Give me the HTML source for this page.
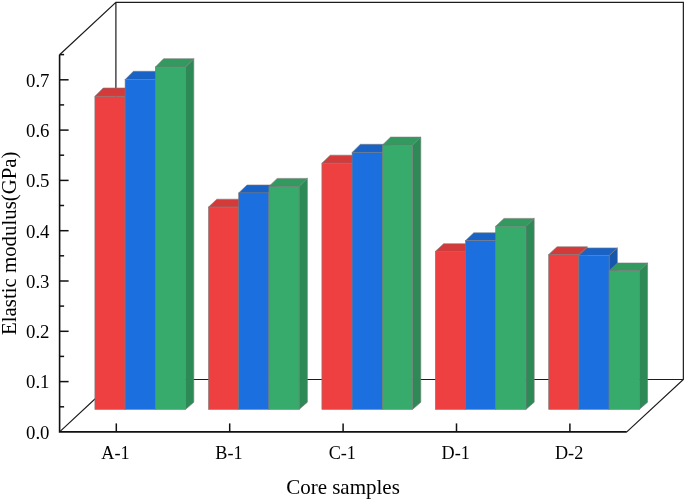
<!DOCTYPE html><html><head><meta charset="utf-8"><title>Elastic modulus</title><style>html,body{margin:0;padding:0;background:#fff}svg{display:block}text{font-family:"Liberation Serif",serif;fill:#000}</style></head><body>
<svg width="685" height="501" viewBox="0 0 685 501">
<rect width="685" height="501" fill="#fff"/>
<path d="M59.6 54.7 L115.9 2.3000000000000043 L683.35 2.3000000000000043 L683.35 379.5 L626.8000000000001 431.9 M115.9 2.3000000000000043 L115.9 379.5 L683.35 379.5 M59.6 431.9 L115.9 379.5" stroke="#1c1c1c" stroke-width="1.2" fill="none"/>
<polygon points="125.1,96.3 133.4,88.0 133.4,402.2 125.1,409.4" fill="#B83232" stroke="#7a7a7a" stroke-width="0.6" stroke-linejoin="round"/>
<polygon points="94.9,96.3 125.1,96.3 133.4,88.0 103.2,88.0" fill="#D53A3A" stroke="#7a7a7a" stroke-width="0.6" stroke-linejoin="round"/>
<rect x="94.9" y="96.3" width="30.2" height="313.1" fill="#EE4040" stroke="#7a7a7a" stroke-width="0.6"/>
<polygon points="155.3,79.6 163.6,71.3 163.6,402.2 155.3,409.4" fill="#1656AC" stroke="#7a7a7a" stroke-width="0.6" stroke-linejoin="round"/>
<polygon points="125.1,79.6 155.3,79.6 163.6,71.3 133.4,71.3" fill="#1963C6" stroke="#7a7a7a" stroke-width="0.6" stroke-linejoin="round"/>
<rect x="125.1" y="79.6" width="30.2" height="329.8" fill="#1B6FDE" stroke="#7a7a7a" stroke-width="0.6"/>
<polygon points="185.5,67.1 193.8,58.7 193.8,402.2 185.5,409.4" fill="#2D8A57" stroke="#7a7a7a" stroke-width="0.6" stroke-linejoin="round"/>
<polygon points="155.3,67.1 185.5,67.1 193.8,58.7 163.6,58.7" fill="#32995F" stroke="#7a7a7a" stroke-width="0.6" stroke-linejoin="round"/>
<rect x="155.3" y="67.1" width="30.2" height="342.3" fill="#37AB6B" stroke="#7a7a7a" stroke-width="0.6"/>
<polygon points="238.7,207.1 247.0,199.2 247.0,402.2 238.7,409.4" fill="#B83232" stroke="#7a7a7a" stroke-width="0.6" stroke-linejoin="round"/>
<polygon points="208.5,207.1 238.7,207.1 247.0,199.2 216.8,199.2" fill="#D53A3A" stroke="#7a7a7a" stroke-width="0.6" stroke-linejoin="round"/>
<rect x="208.5" y="207.1" width="30.2" height="202.3" fill="#EE4040" stroke="#7a7a7a" stroke-width="0.6"/>
<polygon points="268.9,192.9 277.2,185.0 277.2,402.2 268.9,409.4" fill="#1656AC" stroke="#7a7a7a" stroke-width="0.6" stroke-linejoin="round"/>
<polygon points="238.7,192.9 268.9,192.9 277.2,185.0 247.0,185.0" fill="#1963C6" stroke="#7a7a7a" stroke-width="0.6" stroke-linejoin="round"/>
<rect x="238.7" y="192.9" width="30.2" height="216.5" fill="#1B6FDE" stroke="#7a7a7a" stroke-width="0.6"/>
<polygon points="299.1,186.4 307.4,178.4 307.4,402.2 299.1,409.4" fill="#2D8A57" stroke="#7a7a7a" stroke-width="0.6" stroke-linejoin="round"/>
<polygon points="268.9,186.4 299.1,186.4 307.4,178.4 277.2,178.4" fill="#32995F" stroke="#7a7a7a" stroke-width="0.6" stroke-linejoin="round"/>
<rect x="268.9" y="186.4" width="30.2" height="223.0" fill="#37AB6B" stroke="#7a7a7a" stroke-width="0.6"/>
<polygon points="352.1,163.2 360.4,155.2 360.4,402.2 352.1,409.4" fill="#B83232" stroke="#7a7a7a" stroke-width="0.6" stroke-linejoin="round"/>
<polygon points="321.9,163.2 352.1,163.2 360.4,155.2 330.2,155.2" fill="#D53A3A" stroke="#7a7a7a" stroke-width="0.6" stroke-linejoin="round"/>
<rect x="321.9" y="163.2" width="30.2" height="246.2" fill="#EE4040" stroke="#7a7a7a" stroke-width="0.6"/>
<polygon points="382.3,152.4 390.6,144.3 390.6,402.2 382.3,409.4" fill="#1656AC" stroke="#7a7a7a" stroke-width="0.6" stroke-linejoin="round"/>
<polygon points="352.1,152.4 382.3,152.4 390.6,144.3 360.4,144.3" fill="#1963C6" stroke="#7a7a7a" stroke-width="0.6" stroke-linejoin="round"/>
<rect x="352.1" y="152.4" width="30.2" height="257.0" fill="#1B6FDE" stroke="#7a7a7a" stroke-width="0.6"/>
<polygon points="412.5,145.2 420.8,137.1 420.8,402.2 412.5,409.4" fill="#2D8A57" stroke="#7a7a7a" stroke-width="0.6" stroke-linejoin="round"/>
<polygon points="382.3,145.2 412.5,145.2 420.8,137.1 390.6,137.1" fill="#32995F" stroke="#7a7a7a" stroke-width="0.6" stroke-linejoin="round"/>
<rect x="382.3" y="145.2" width="30.2" height="264.2" fill="#37AB6B" stroke="#7a7a7a" stroke-width="0.6"/>
<polygon points="465.5,251.4 473.8,243.7 473.8,402.2 465.5,409.4" fill="#B83232" stroke="#7a7a7a" stroke-width="0.6" stroke-linejoin="round"/>
<polygon points="435.3,251.4 465.5,251.4 473.8,243.7 443.6,243.7" fill="#D53A3A" stroke="#7a7a7a" stroke-width="0.6" stroke-linejoin="round"/>
<rect x="435.3" y="251.4" width="30.2" height="158.0" fill="#EE4040" stroke="#7a7a7a" stroke-width="0.6"/>
<polygon points="495.7,240.6 504.0,232.8 504.0,402.2 495.7,409.4" fill="#1656AC" stroke="#7a7a7a" stroke-width="0.6" stroke-linejoin="round"/>
<polygon points="465.5,240.6 495.7,240.6 504.0,232.8 473.8,232.8" fill="#1963C6" stroke="#7a7a7a" stroke-width="0.6" stroke-linejoin="round"/>
<rect x="465.5" y="240.6" width="30.2" height="168.8" fill="#1B6FDE" stroke="#7a7a7a" stroke-width="0.6"/>
<polygon points="525.9,226.2 534.2,218.4 534.2,402.2 525.9,409.4" fill="#2D8A57" stroke="#7a7a7a" stroke-width="0.6" stroke-linejoin="round"/>
<polygon points="495.7,226.2 525.9,226.2 534.2,218.4 504.0,218.4" fill="#32995F" stroke="#7a7a7a" stroke-width="0.6" stroke-linejoin="round"/>
<rect x="495.7" y="226.2" width="30.2" height="183.2" fill="#37AB6B" stroke="#7a7a7a" stroke-width="0.6"/>
<polygon points="578.9,254.5 587.2,246.8 587.2,402.2 578.9,409.4" fill="#B83232" stroke="#7a7a7a" stroke-width="0.6" stroke-linejoin="round"/>
<polygon points="548.7,254.5 578.9,254.5 587.2,246.8 557.0,246.8" fill="#D53A3A" stroke="#7a7a7a" stroke-width="0.6" stroke-linejoin="round"/>
<rect x="548.7" y="254.5" width="30.2" height="154.9" fill="#EE4040" stroke="#7a7a7a" stroke-width="0.6"/>
<polygon points="609.1,255.6 617.4,247.9 617.4,402.2 609.1,409.4" fill="#1656AC" stroke="#7a7a7a" stroke-width="0.6" stroke-linejoin="round"/>
<polygon points="578.9,255.6 609.1,255.6 617.4,247.9 587.2,247.9" fill="#1963C6" stroke="#7a7a7a" stroke-width="0.6" stroke-linejoin="round"/>
<rect x="578.9" y="255.6" width="30.2" height="153.8" fill="#1B6FDE" stroke="#7a7a7a" stroke-width="0.6"/>
<polygon points="639.3,270.7 647.6,263.0 647.6,402.2 639.3,409.4" fill="#2D8A57" stroke="#7a7a7a" stroke-width="0.6" stroke-linejoin="round"/>
<polygon points="609.1,270.7 639.3,270.7 647.6,263.0 617.4,263.0" fill="#32995F" stroke="#7a7a7a" stroke-width="0.6" stroke-linejoin="round"/>
<rect x="609.1" y="270.7" width="30.2" height="138.7" fill="#37AB6B" stroke="#7a7a7a" stroke-width="0.6"/>
<path d="M59.6 54.7 L59.6 431.9 L626.8000000000001 431.9" stroke="#111" stroke-width="1.6" fill="none" stroke-linecap="butt" stroke-linejoin="miter"/>
<line x1="59.6" y1="406.8" x2="64.1" y2="406.8" stroke="#111" stroke-width="1.5"/>
<line x1="59.6" y1="381.6" x2="68.6" y2="381.6" stroke="#111" stroke-width="1.5"/>
<line x1="59.6" y1="356.4" x2="64.1" y2="356.4" stroke="#111" stroke-width="1.5"/>
<line x1="59.6" y1="331.3" x2="68.6" y2="331.3" stroke="#111" stroke-width="1.5"/>
<line x1="59.6" y1="306.1" x2="64.1" y2="306.1" stroke="#111" stroke-width="1.5"/>
<line x1="59.6" y1="281.0" x2="68.6" y2="281.0" stroke="#111" stroke-width="1.5"/>
<line x1="59.6" y1="255.8" x2="64.1" y2="255.8" stroke="#111" stroke-width="1.5"/>
<line x1="59.6" y1="230.7" x2="68.6" y2="230.7" stroke="#111" stroke-width="1.5"/>
<line x1="59.6" y1="205.5" x2="64.1" y2="205.5" stroke="#111" stroke-width="1.5"/>
<line x1="59.6" y1="180.4" x2="68.6" y2="180.4" stroke="#111" stroke-width="1.5"/>
<line x1="59.6" y1="155.2" x2="64.1" y2="155.2" stroke="#111" stroke-width="1.5"/>
<line x1="59.6" y1="130.1" x2="68.6" y2="130.1" stroke="#111" stroke-width="1.5"/>
<line x1="59.6" y1="104.9" x2="64.1" y2="104.9" stroke="#111" stroke-width="1.5"/>
<line x1="59.6" y1="79.8" x2="68.6" y2="79.8" stroke="#111" stroke-width="1.5"/>
<line x1="59.6" y1="54.6" x2="64.1" y2="54.6" stroke="#111" stroke-width="1.5"/>
<text x="49.5" y="438.7" font-size="18.8" text-anchor="end">0.0</text>
<text x="49.5" y="388.4" font-size="18.8" text-anchor="end">0.1</text>
<text x="49.5" y="338.1" font-size="18.8" text-anchor="end">0.2</text>
<text x="49.5" y="287.8" font-size="18.8" text-anchor="end">0.3</text>
<text x="49.5" y="237.5" font-size="18.8" text-anchor="end">0.4</text>
<text x="49.5" y="187.2" font-size="18.8" text-anchor="end">0.5</text>
<text x="49.5" y="136.9" font-size="18.8" text-anchor="end">0.6</text>
<text x="49.5" y="86.6" font-size="18.8" text-anchor="end">0.7</text>
<line x1="116.3" y1="431.9" x2="116.3" y2="423.4" stroke="#111" stroke-width="1.5"/>
<text x="115.5" y="459.3" font-size="18.2" text-anchor="middle">A-1</text>
<line x1="229.7" y1="431.9" x2="229.7" y2="423.4" stroke="#111" stroke-width="1.5"/>
<text x="228.9" y="459.3" font-size="18.2" text-anchor="middle">B-1</text>
<line x1="343.1" y1="431.9" x2="343.1" y2="423.4" stroke="#111" stroke-width="1.5"/>
<text x="342.3" y="459.3" font-size="18.2" text-anchor="middle">C-1</text>
<line x1="456.5" y1="431.9" x2="456.5" y2="423.4" stroke="#111" stroke-width="1.5"/>
<text x="455.7" y="459.3" font-size="18.2" text-anchor="middle">D-1</text>
<line x1="569.9" y1="431.9" x2="569.9" y2="423.4" stroke="#111" stroke-width="1.5"/>
<text x="569.1" y="459.3" font-size="18.2" text-anchor="middle">D-2</text>
<text x="343" y="494.2" font-size="21" text-anchor="middle">Core samples</text>
<text transform="translate(15.9,243.2) rotate(-90)" font-size="20.85" text-anchor="middle">Elastic modulus(GPa)</text>
</svg></body></html>
